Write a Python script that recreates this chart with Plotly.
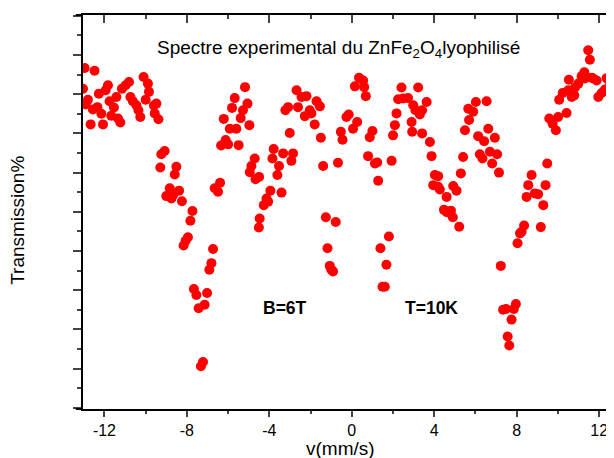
import plotly.graph_objects as go

# velocity (mm/s) and relative transmission
velocity = [-13.04, -12.96, -12.91, -12.80, -12.67, -12.56, -12.48, -12.34, -12.27, -12.15,
            -12.07, -11.94, -11.83, -11.75, -11.67, -11.54, -11.42, -11.34, -11.23, -11.15,
            -10.97, -10.81, -10.74, -10.62, -10.45, -10.35, -10.26, -10.10, -10.00, -9.89,
            -9.84, -9.60, -9.56, -9.48, -9.38, -9.29, -9.24, -9.08, -9.00, -8.83,
            -8.75, -8.67, -8.59, -8.51, -8.38, -8.24, -8.16, -8.06, -7.95, -7.83,
            -7.73, -7.66, -7.54, -7.43, -7.32, -7.22, -7.14, -7.02, -6.91, -6.81,
            -6.73, -6.65, -6.49, -6.39, -6.34, -6.21, -6.12, -6.00, -5.92, -5.81,
            -5.68, -5.60, -5.49, -5.39, -5.28, -5.18, -5.06, -4.97, -4.95, -4.87,
            -4.71, -4.67, -4.50, -4.47, -4.51, -4.27, -4.14, -4.06, -3.95, -3.85,
            -3.79, -3.61, -3.53, -3.41, -3.33, -3.22, -3.09, -3.01, -2.93, -2.85,
            -2.68, -2.61, -2.44, -2.28, -2.20, -2.04, -1.96, -1.80, -1.71, -1.55,
            -1.50, -1.39, -1.26, -1.18, -1.07, -0.99, -0.91, -0.78, -0.67, -0.53,
            -0.45, -0.26, -0.15, 0.06, 0.15, 0.26, 0.35, 0.55, 0.60, 0.68,
            0.79, 0.87, 1.00, 1.12, 1.23, 1.28, 1.39, 1.49, 1.60, 1.68,
            1.80, 1.93, 2.00, 2.09, 2.17, 2.25, 2.41, 2.49, 2.73, 2.90,
            2.93, 2.98, 3.09, 3.22, 3.30, 3.41, 3.41, 3.63, 3.79, 3.87,
            3.95, 4.03, 4.19, 4.19, 4.27, 4.47, 4.60, 4.61, 4.81, 4.92,
            4.90, 5.08, 5.21, 5.29, 5.40, 5.49, 5.65, 5.69, 5.89, 6.02,
            6.13, 6.21, 6.34, 6.42, 6.54, 6.62, 6.70, 6.81, 6.94, 7.05,
            7.14, 7.23, 7.34, 7.48, 7.56, 7.64, 7.75, 7.86, 7.96, 8.04,
            8.16, 8.24, 8.36, 8.48, 8.56, 8.72, 8.88, 9.04, 9.17, 9.29,
            9.40, 9.48, 9.58, 9.74, 9.90, 10.01, 10.06, 10.23, 10.42, 10.50,
            10.53, 10.67, 10.79, 10.83, 10.99, 11.15, 11.28, 11.31, 11.47, 11.55,
            11.64, 11.71, 11.88, 11.96, 12.12, 12.28, 12.36, 12.52, 12.66]

transmission = [8.14, 8.67, 7.74, 7.86, 7.23, 7.61, 8.60, 7.67, 8.01, 7.50,
                7.23, 8.10, 8.23, 7.82, 7.45, 7.66, 7.93, 7.38, 7.28, 8.14,
                8.23, 8.31, 7.93, 7.82, 7.72, 7.59, 7.42, 8.44, 7.86, 8.27,
                8.06, 7.71, 7.51, 7.76, 7.36, 6.13, 6.47, 6.55, 5.40, 5.60,
                5.34, 5.43, 5.95, 6.15, 5.54, 5.27, 4.14, 4.26, 4.35, 4.77,
                5.02, 3.03, 2.88, 2.54, 1.06, 1.17, 2.63, 2.93, 3.52, 3.69,
                4.05, 5.60, 5.51, 5.74, 6.69, 7.37, 6.83, 6.72, 7.12, 7.65,
                7.90, 7.12, 6.70, 7.39, 7.59, 8.18, 7.76, 7.21, 6.01, 6.17,
                6.36, 5.83, 5.89, 4.83, 4.60, 5.17, 5.34, 5.26, 5.54, 6.36,
                6.60, 5.94, 6.17, 5.49, 6.49, 7.59, 7.67, 7.01, 6.30, 6.49,
                8.10, 7.67, 7.93, 7.44, 7.95, 7.59, 7.51, 7.23, 7.82, 7.69,
                6.89, 6.17, 4.86, 4.07, 3.62, 3.52, 3.48, 4.74, 6.25, 7.04,
                6.84, 7.42, 7.48, 7.12, 8.20, 7.29, 8.42, 8.35, 8.18, 7.95,
                6.42, 6.90, 7.06, 6.23, 6.26, 5.79, 4.07, 3.09, 3.09, 3.65,
                4.37, 6.30, 6.95, 7.21, 7.51, 7.87, 8.17, 7.89, 7.90, 7.29,
                7.04, 7.72, 7.59, 8.17, 7.48, 7.59, 7.00, 7.80, 6.78, 6.42,
                5.68, 5.94, 5.91, 5.64, 5.57, 5.05, 5.38, 4.99, 5.03, 5.66,
                4.86, 5.54, 4.62, 5.98, 6.40, 7.08, 7.63, 7.34, 7.55, 7.80,
                6.93, 6.47, 6.36, 6.80, 7.82, 7.12, 6.53, 6.23, 6.89, 6.47,
                6.00, 3.62, 2.50, 2.52, 1.82, 1.59, 2.25, 2.52, 2.65, 4.20,
                4.45, 4.49, 4.65, 5.38, 5.68, 5.94, 5.47, 5.45, 4.61, 5.17,
                5.68, 6.23, 7.38, 7.25, 7.08, 7.42, 7.86, 8.03, 7.52, 8.10,
                8.37, 7.93, 7.97, 8.17, 8.27, 8.46, 8.56, 8.40, 9.12, 8.88,
                8.42, 8.40, 8.35, 7.93, 8.03, 8.12, 8.41, 8.31, 7.84]

x_range = [-13.04, 12.72]
y_range = [-0.03, 10.02]
x_ticks = [-12, -8, -4, 0, 4, 8, 12]
x_labels = ["-12", "-8", "-4", "0", "4", "8", "12"]

font = "Liberation Sans, Arial, sans-serif"

fig = go.Figure()
fig.add_trace(go.Scatter(x=velocity, y=transmission, mode="markers",
                         marker=dict(color="#ff0000", size=10, line=dict(width=0)),
                         showlegend=False))
# dummy trace so the mirrored top/right axes get drawn
fig.add_trace(go.Scatter(x=[None], y=[None], xaxis="x2", yaxis="y2", showlegend=False,
                         hoverinfo="skip"))

# page body has an 8px margin, so the figure is 8px smaller than the window
fig.update_layout(
    width=606, height=450,
    margin=dict(l=75, r=0, t=7, b=49),
    paper_bgcolor="white", plot_bgcolor="white",
    font=dict(family=font, size=16, color="black"),
    xaxis=dict(range=x_range, tickvals=x_ticks, ticktext=x_labels, ticks="outside",
               ticklen=6, tickwidth=1.5, showline=True, linewidth=2, linecolor="black",
               showgrid=False, zeroline=False, automargin=False,
               minor=dict(dtick=2, tick0=0, ticks="outside", ticklen=3, tickwidth=1.5),
               tickfont=dict(size=16)),
    xaxis2=dict(range=x_range, overlaying="x", anchor="y", side="top", tickvals=x_ticks,
                ticks="inside", ticklen=8, tickwidth=1.5, showticklabels=False,
                showline=True, linewidth=2, linecolor="black", showgrid=False,
                zeroline=False, automargin=False,
                minor=dict(dtick=2, tick0=0, ticks="inside", ticklen=4, tickwidth=1.5)),
    yaxis=dict(range=y_range, dtick=1, tick0=0, ticks="outside", ticklen=8, tickwidth=1.5,
               showticklabels=False, showline=True, linewidth=2, linecolor="black",
               showgrid=False, zeroline=False, automargin=False,
               minor=dict(dtick=0.5, tick0=0, ticks="outside", ticklen=4, tickwidth=1.5)),
    yaxis2=dict(range=y_range, overlaying="y", anchor="x", side="right", dtick=1, tick0=0,
                ticks="inside", ticklen=5, tickwidth=1.5, showticklabels=False,
                showline=False, showgrid=False, zeroline=False, automargin=False,
                minor=dict(dtick=0.5, tick0=0, ticks="inside", ticklen=3, tickwidth=1.5)),
)

# Origin-style axis lines that run a little past the left axis
for yy in [0, 1]:
    fig.add_shape(type="line", xref="paper", yref="paper", x0=-0.0135, x1=0, y0=yy, y1=yy,
                  line=dict(color="black", width=2))

# axis titles
fig.add_annotation(text="v(mm/s)", xref="paper", yref="paper", x=0.4847, y=-0.1,
                   xanchor="center", yanchor="middle", showarrow=False,
                   font=dict(size=19, family=font))
fig.add_annotation(text="Transmission%", xref="paper", yref="paper", x=-0.1225, y=0.48,
                   xanchor="center", yanchor="middle", textangle=-90, showarrow=False,
                   font=dict(size=19, family=font))

fig.add_annotation(text="Spectre experimental du ZnFe<sub>2</sub>O<sub>4</sub>lyophilisé",
                   x=-9.56, y=9.16, showarrow=False, xanchor="left", yanchor="middle",
                   font=dict(size=19, family=font))
fig.add_annotation(text="<b>B=6T</b>", x=-3.23, y=2.55, showarrow=False,
                   font=dict(size=17.5, family=font))
fig.add_annotation(text="<b>T=10K</b>", x=3.88, y=2.55, showarrow=False,
                   font=dict(size=17.5, family=font))

fig.write_html("out.html")
